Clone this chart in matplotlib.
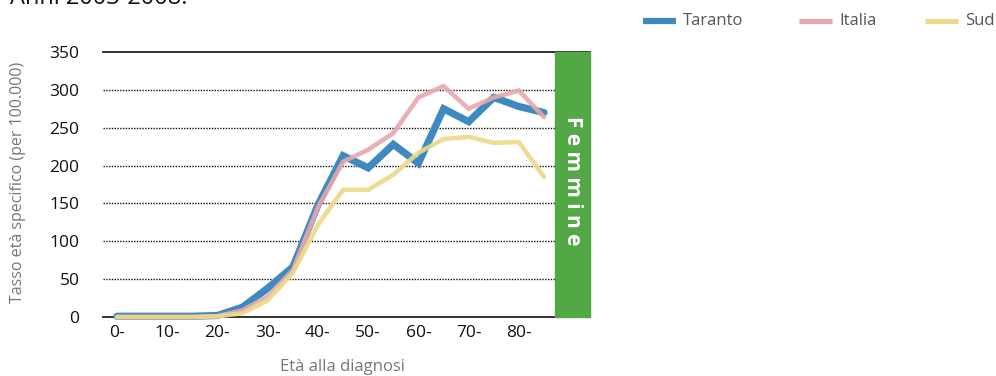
import matplotlib.pyplot as plt
from matplotlib.lines import Line2D
from matplotlib.patches import Rectangle

plt.rcParams['font.family'] = ['Open Sans', 'DejaVu Sans']

# classi di età (ogni 5 anni)
eta = ['0-', '5-', '10-', '15-', '20-', '25-', '30-', '35-', '40-', '45-',
       '50-', '55-', '60-', '65-', '70-', '75-', '80-', '85-']
taranto = [1, 1, 1, 1, 2, 13, 38, 66, 148, 213, 197, 228, 203, 275, 258, 290, 278, 270]
italia = [0, 0, 0, 0, 1, 9, 27, 62, 145, 205, 221, 243, 290, 305, 275, 290, 299, 264]
sud = [0, 0, 0, 0, 1, 5, 22, 58, 122, 168, 168, 188, 217, 235, 238, 230, 231, 185]
y_ticks = [0, 50, 100, 150, 200, 250, 300, 350]

c_tar = '#3e89bd'
c_ita = '#e9a6ae'
c_sud = '#ecd98a'
c_green = '#53a846'

W, H = 996, 376
fig = plt.figure(figsize=(W / 100, H / 100), dpi=100)

# assi: pixel 103..590 in x, 52..317 in y
ax = fig.add_axes([103 / W, (H - 317) / H, (590 - 103) / W, (317 - 52) / H])
step = 25.12
x0 = (103 - 117) / step
x1 = (590 - 117) / step
xg = (555 - 117) / step
ax.set_xlim(x0, x1)
ax.set_ylim(0, 350)
for s in ax.spines.values():
    s.set_visible(False)

# griglia puntinata
for v in y_ticks[1:-1]:
    ax.plot([x0, xg], [v, v], color='#111111', lw=1.0, ls=(0, (1, 1)), zorder=1)
ax.plot([x0, x1], [350, 350], color='#222222', lw=1.3, zorder=1, clip_on=False)
ax.plot([x0, x1], [0, 0], color='#222222', lw=1.3, zorder=1, clip_on=False)

# banda verde
ax.add_patch(Rectangle((xg, 0), x1 - xg, 350, color=c_green, zorder=2, clip_on=False))
ax.text((xg + x1) / 2, 180, 'F e m m i n e', rotation=-90, color='white',
        fontsize=15, fontweight='bold', ha='center', va='center', zorder=3)

xs = list(range(len(eta)))
ax.plot(xs, taranto, color=c_tar, lw=5.2, solid_capstyle='round',
        solid_joinstyle='miter', zorder=4, clip_on=False)
ax.plot(xs, italia, color=c_ita, lw=3.3, alpha=0.9, solid_capstyle='round',
        solid_joinstyle='miter', zorder=5, clip_on=False)
ax.plot(xs, sud, color=c_sud, lw=3.3, alpha=0.9, solid_capstyle='round',
        solid_joinstyle='miter', zorder=6, clip_on=False)

ax.set_xticks(xs[::2])
ax.set_xticklabels(eta[::2])
ax.set_yticks(y_ticks)
ax.tick_params(axis='both', length=0, labelsize=12.5, colors='#111111')
ax.tick_params(axis='y', pad=17)
ax.tick_params(axis='x', pad=6)

fig.text(18 / W, 1 - 182 / H, 'Tasso età specifico (per 100.000)', rotation=90,
         color='#777777', fontsize=11.5, ha='center', va='center')
fig.text(342 / W, 1 - 367 / H, 'Età alla diagnosi', color='#777777',
         fontsize=12, ha='center', va='center')

# titolo tagliato in alto
fig.text(10 / W, 1 - 4 / H, 'Anni 2003-2008.', fontsize=17, color='#111111',
         ha='left', va='baseline')

# legenda
leg = [('Taranto', c_tar, 643, 4.5), ('Italia', c_ita, 799, 3.6), ('Sud', c_sud, 925, 3.6)]
for name, col, px, lw in leg:
    fig.add_artist(Line2D([px / W, (px + 33) / W], [1 - 21 / H, 1 - 21 / H],
                          color=col, lw=lw, solid_capstyle='butt'))
    fig.text((px + 40) / W, 1 - 21 / H, name, color='#555555', fontsize=12,
             ha='left', va='center')

fig.savefig('out.png', dpi=100)
